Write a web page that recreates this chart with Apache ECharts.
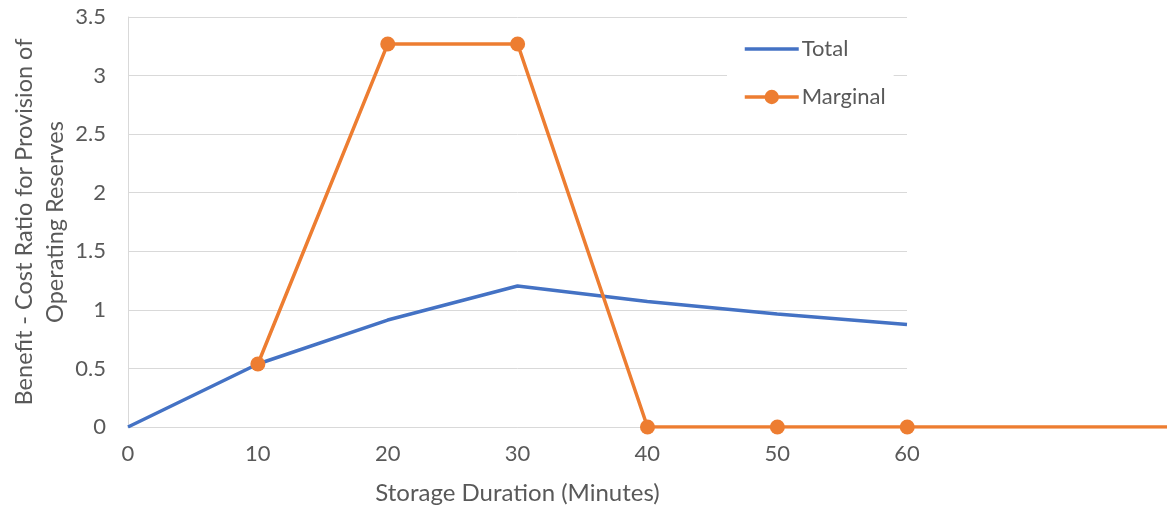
<!DOCTYPE html>
<html><head><meta charset="utf-8">
<script src="https://cdn.jsdelivr.net/npm/echarts@6/dist/echarts.min.js"></script>
<style>html,body{margin:0;padding:0;background:#fff}#c{width:1175px;height:508px}</style>
</head><body><div id="c"></div>
<script>
var xTotal = [0, 10, 20, 30, 40, 50, 60];
var yTotal = [0, 0.538, 0.913, 1.204, 1.072, 0.965, 0.876];
var xMarginal = [10, 20, 30, 40, 50, 60, 80];
var yMarginal = [0.538, 3.27, 3.27, 0, 0, 0, 0];
var xTicks = [0, 10, 20, 30, 40, 50, 60];
var yTicks = [0, 0.5, 1, 1.5, 2, 2.5, 3, 3.5];

var font = 'Lato';
var grey = '#595959';
var chart = echarts.init(document.getElementById('c'));
chart.setOption({
  animation: false,
  grid: [
    {left: 128, right: 268, top: 17, bottom: 81, containLabel: false, outerBoundsMode: 'none'},
    {left: 128, right: 8, top: 17, bottom: 81, containLabel: false, outerBoundsMode: 'none'}
  ],
  legend: {
    orient: 'vertical', left: 727, top: 28,
    backgroundColor: '#fff', padding: [10, 8, 10, 16],
    itemWidth: 54, itemHeight: 18, itemGap: 26,
    textStyle: {fontFamily: font, fontSize: 22, color: grey, padding: [0, 0, 0, -2]},
    data: [
      {name: 'Total', itemStyle: {opacity: 0}, lineStyle: {width: 3.5}},
      {name: 'Marginal', lineStyle: {width: 3.5}}
    ]
  },
  xAxis: [{
    type: 'value', gridIndex: 0, min: xTicks[0], max: xTicks[xTicks.length - 1], interval: 10,
    name: 'Storage Duration (Minutes)', nameLocation: 'middle', nameGap: 54,
    nameTextStyle: {fontFamily: font, fontSize: 24, color: grey},
    axisLine: {show: true, lineStyle: {color: '#d9d9d9', width: 1}},
    axisTick: {show: false},
    splitLine: {show: false},
    axisLabel: {fontFamily: font, fontSize: 22, color: grey, margin: 16}
  }, {
    type: 'value', gridIndex: 1, min: 0, max: 80, show: false,
    splitLine: {show: false}
  }],
  yAxis: [{
    type: 'value', gridIndex: 0, min: yTicks[0], max: yTicks[yTicks.length - 1], interval: 0.5,
    name: 'Benefit - Cost Ratio for Provision of\nOperating Reserves', nameLocation: 'middle', nameGap: 57,
    nameMoveOverlap: false,
    nameTextStyle: {fontFamily: font, fontSize: 23.5, color: grey, lineHeight: 31},
    axisLine: {show: true, lineStyle: {color: '#d9d9d9', width: 1}},
    axisTick: {show: false},
    splitLine: {lineStyle: {color: '#d9d9d9', width: 1}},
    axisLabel: {fontFamily: font, fontSize: 22, color: grey, margin: 22}
  }, {
    type: 'value', gridIndex: 1, min: 0, max: 3.5, show: false,
    splitLine: {show: false}
  }],
  series: [
    {
      name: 'Total', type: 'line', symbol: 'none', z: 2, xAxisIndex: 0, yAxisIndex: 0,
      lineStyle: {color: '#4472C4', width: 3.5}, itemStyle: {color: '#4472C4'},
      data: xTotal.map(function (x, i) { return [x, yTotal[i]]; })
    },
    {
      name: 'Marginal', type: 'line', symbol: 'circle', symbolSize: 15, z: 3, xAxisIndex: 1, yAxisIndex: 1,
      lineStyle: {color: '#ED7D31', width: 3.5}, itemStyle: {color: '#ED7D31'},
      data: xMarginal.map(function (x, i) {
        var d = {value: [x, yMarginal[i]]};
        if (x > 60) d.symbol = 'none';
        return d;
      })
    }
  ]
});
</script></body></html>
